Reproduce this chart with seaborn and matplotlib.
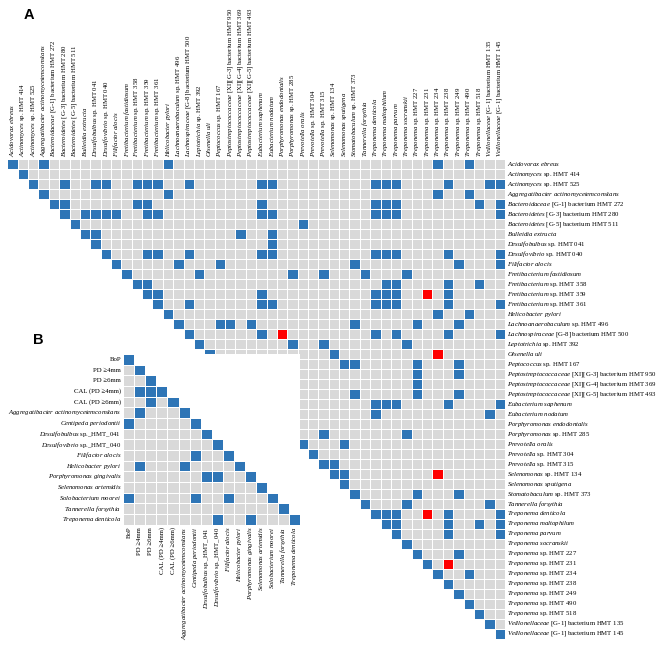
import numpy as np
import pandas as pd
import matplotlib
matplotlib.use('Agg')
import matplotlib.pyplot as plt
from matplotlib.colors import ListedColormap
import seaborn as sns

# ---- panel A: taxa (same order for rows and columns) ----
TAXA_A = [
    'Acidovorax ebreus', 'Actinomyces sp. HMT 414', 'Actinomyces sp. HMT 525',
    'Aggregatibacter actinomycetemcomitans', 'Bacteroidaceae [G-1] bacterium HMT 272',
    'Bacteroidetes [G-3] bacterium HMT 280', 'Bacteroidetes [G-5] bacterium HMT 511',
    'Bulleidia extructa', 'Desulfobulbus sp. HMT 041', 'Desulfovibrio sp. HMT 040',
    'Filifactor alocis', 'Fretibacterium fastidiosum', 'Fretibacterium sp. HMT 358',
    'Fretibacterium sp. HMT 359', 'Fretibacterium sp. HMT 361', 'Helicobacter pylori',
    'Lachnoanaerobaculum sp. HMT 496', 'Lachnospiraceae [G-8] bacterium HMT 500',
    'Leptotrichia sp. HMT 392', 'Olsenella uli', 'Peptococcus sp. HMT 167',
    'Peptostreptococcaceae [XI][G-3] bacterium HMT 950',
    'Peptostreptococcaceae [XI][G-4] bacterium HMT 369',
    'Peptostreptococcaceae [XI][G-5] bacterium HMT 493',
    'Eubacterium saphenum', 'Eubacterium nodatum', 'Porphyromonas endodontalis',
    'Porphyromonas sp. HMT 285', 'Prevotella oralis', 'Prevotella sp. HMT 304',
    'Prevotella sp. HMT 315', 'Selenomonas sp. HMT 134', 'Selenomonas sputigena',
    'Stomatobaculum sp. HMT 373', 'Tannerella forsythia', 'Treponema denticola',
    'Treponema maltophilum', 'Treponema parvum', 'Treponema socranskii',
    'Treponema sp. HMT 227', 'Treponema sp. HMT 231', 'Treponema sp. HMT 234',
    'Treponema sp. HMT 238', 'Treponema sp. HMT 249', 'Treponema sp. HMT 490',
    'Treponema sp. HMT 518', 'Veillonellaceae [G-1] bacterium HMT 135',
    'Veillonellaceae [G-1] bacterium HMT 145',
]

# positive associations (row index -> column indices), upper triangle
POS_A = {
    0: [3, 15, 41, 44], 2: [5, 8, 9, 12, 13, 14, 17, 24, 25, 35, 36, 37, 42, 46, 47],
    3: [15, 41, 44], 4: [5, 12, 13, 24, 35, 36, 37, 45, 47],
    5: [7, 8, 9, 10, 13, 14, 24, 25, 35, 36, 37, 47], 6: [28], 7: [8, 22, 25], 8: [25],
    9: [13, 14, 17, 24, 25, 35, 36, 37, 42, 47], 10: [16, 20, 33, 43, 47],
    11: [18, 27, 30, 34, 38], 12: [13, 36, 37, 42, 45], 13: [14, 24, 35, 36, 37, 42],
    14: [17, 24, 25, 35, 36, 37, 42, 47], 15: [41, 44], 16: [20, 21, 23, 33, 39, 43],
    17: [24, 35, 37, 42, 47], 18: [27, 30, 38], 19: [31], 20: [23, 32, 33, 39, 43],
    21: [22, 39, 43], 22: [39], 23: [33, 39, 43], 24: [25, 35, 36, 37, 42, 47],
    25: [35, 46], 27: [30, 38], 28: [32], 30: [31], 31: [32], 33: [39, 43],
    34: [38, 46], 35: [36, 37, 42, 47], 36: [37, 42, 45, 47], 37: [42, 47],
    39: [43], 41: [44],
}
# negative associations
NEG_A = {13: [40], 17: [26], 19: [41], 31: [41], 35: [40], 40: [42]}

# ---- panel B: clinical parameters and taxa, lower triangle ----
VARS_B = [
    'BoP', 'PD ≥4mm', 'PD ≥6mm', 'CAL (PD ≥4mm)', 'CAL (PD ≥6mm)',
    'Aggregatibacter actinomycetemcomitans', 'Centipeda periodontii',
    'Desulfobulbus sp._HMT_041', 'Desulfovibrio sp._HMT_040', 'Filifactor alocis',
    'Helicobacter pylori', 'Porphyromonas gingivalis', 'Selenomonas artemidis',
    'Solobacterium moorei', 'Tannerella forsythia', 'Treponema denticola',
]
CLINICAL_B = VARS_B[:5]
POS_B = {3: [1, 2], 4: [2], 5: [1], 6: [0], 9: [6], 10: [1, 5], 11: [7, 8],
         13: [0, 6, 9], 15: [8, 11]}

GRAY, BLUE, RED = '#d9d9d9', '#2e75b6', '#ff0000'
CMAP = ListedColormap([GRAY, BLUE, RED])
FS = 4.9

plt.rcParams['font.family'] = ['Liberation Serif', 'DejaVu Serif']
plt.rcParams['mathtext.fontset'] = 'custom'
plt.rcParams['mathtext.rm'] = 'Liberation Serif'
plt.rcParams['mathtext.it'] = 'Liberation Serif:italic'


def fmt(name):
    # italic genus/species words, upright "sp.", strain ids, brackets
    if name in CLINICAL_B:
        return name
    words = name.split(' ')
    out, italic = [], True
    for w in words:
        if w.startswith(('sp.', '[', 'bacterium', 'HMT')):
            italic = False
        out.append(r'$\mathit{%s}$' % w if italic else w)
    return ' '.join(out)


def build(names, pos, neg, upper):
    n = len(names)
    m = np.zeros((n, n))
    np.fill_diagonal(m, 1)
    for r, cols in pos.items():
        m[r, cols] = 1
    for r, cols in neg.items():
        m[r, cols] = 2
    ones = np.ones((n, n), bool)
    mask = np.tril(ones, -1) if upper else np.triu(ones, 1)
    return pd.DataFrame(m, index=names, columns=names), mask


W, H = 662, 648
fig = plt.figure(figsize=(W / 100, H / 100), dpi=100)

# panel A
df_a, mask_a = build(TAXA_A, POS_A, NEG_A, upper=True)
ax_a = fig.add_axes([7.3 / W, 1 - 639 / H, 497.7 / W, 480 / H])
sns.heatmap(df_a, mask=mask_a, cmap=CMAP, vmin=-0.5, vmax=2.5, cbar=False,
            linewidths=0.7, linecolor='white', ax=ax_a,
            xticklabels=[fmt(t) for t in TAXA_A], yticklabels=[fmt(t) for t in TAXA_A])
ax_a.xaxis.tick_top()
ax_a.yaxis.tick_right()
ax_a.tick_params(length=0, pad=1.5, labelsize=FS)
plt.setp(ax_a.get_xticklabels(), rotation=90, ha='center', va='bottom')
plt.setp(ax_a.get_yticklabels(), rotation=0, ha='left', va='center')
ax_a.set_xlabel(''); ax_a.set_ylabel('')

# panel B
df_b, mask_b = build(VARS_B, POS_B, {}, upper=False)
ax_b = fig.add_axes([123.3 / W, 1 - 524.7 / H, 176.7 / W, 170.7 / H])
sns.heatmap(df_b, mask=mask_b, cmap=CMAP, vmin=-0.5, vmax=2.5, cbar=False,
            linewidths=0.7, linecolor='white', ax=ax_b,
            xticklabels=[fmt(t) for t in VARS_B], yticklabels=[fmt(t) for t in VARS_B])
ax_b.tick_params(length=0, pad=1.5, labelsize=FS)
plt.setp(ax_b.get_xticklabels(), rotation=90, ha='center', va='top')
plt.setp(ax_b.get_yticklabels(), rotation=0, ha='right', va='center')
ax_b.set_xlabel(''); ax_b.set_ylabel('')

fig.text(29 / W, 1 - 15 / H, 'A', fontsize=10.5, fontweight='bold',
         family='Liberation Sans', ha='center', va='center')
fig.text(38 / W, 1 - 340 / H, 'B', fontsize=10.5, fontweight='bold',
         family='Liberation Sans', ha='center', va='center')

fig.savefig('out.png', dpi=100, facecolor='white')
plt.close(fig)
